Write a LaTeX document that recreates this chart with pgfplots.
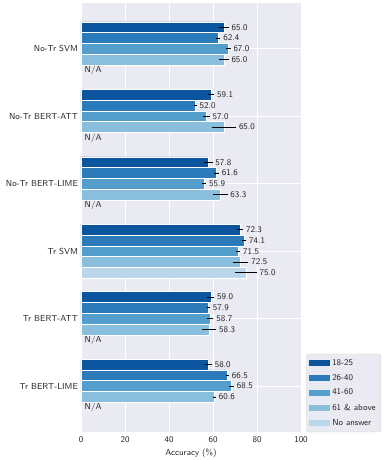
\documentclass[border=0pt]{standalone}
\usepackage{pgfplots}
\pgfplotsset{compat=1.18}
\usepackage{pgfplotstable}
\renewcommand{\familydefault}{\sfdefault}
\definecolor{bgc}{HTML}{EAEAF2}
\definecolor{txt}{HTML}{262626}
\definecolor{cA}{HTML}{0B559F}
\definecolor{cB}{HTML}{2B7BBA}
\definecolor{cC}{HTML}{539ECD}
\definecolor{cD}{HTML}{89BEDC}
\definecolor{cE}{HTML}{BAD6EB}

% y = group index + slot offset (groups 0..5 top to bottom)
\pgfplotstableread{
y x e
-0.32 65.0 2.2
0.68 59.1 1.5
1.68 57.8 2.0
2.68 72.3 1.4
3.68 59.0 1.6
4.68 58.0 1.5
}\tA
\pgfplotstableread{
y x e
-0.16 62.4 1.0
0.84 52.0 0.6
1.84 61.6 1.1
2.84 74.1 1.05
3.84 57.9 0.75
4.84 66.5 0.75
}\tB
\pgfplotstableread{
y x e
0.0 67.0 1.0
1.0 57.0 1.5
2.0 55.9 1.05
3.0 71.5 0.9
4.0 58.7 1.5
5.0 68.5 1.05
}\tC
\pgfplotstableread{
y x e
0.16 65.0 2.1
1.16 65.0 5.5
2.16 63.3 3.3
3.16 72.5 3.6
4.16 58.3 3.2
5.16 60.6 0.75
}\tD
\pgfplotstableread{
y x e
3.32 75.0 4.9
}\tE

\pgfplotsset{
  mybar/.style={xbar, bar width=0.16, bar shift=0pt, fill=#1, draw=white, line width=0.5pt,
    legend image code/.code={\fill[fill=#1,draw=none,sharp corners] (0pt,-3pt) rectangle (21pt,3pt);},
    error bars/x dir=both, error bars/x explicit, error bars/error mark=none,
    error bars/error bar style={line width=0.8pt, black, line cap=butt}},
  vlab/.style={draw=none, mark=none, forget plot, nodes near coords,
    point meta=\thisrow{x},
    every node near coord/.append style={anchor=west, inner sep=0.5pt, xshift=2.2pt, text=txt,
      /pgf/number format/.cd, fixed, fixed zerofill, precision=1}},
}

\begin{document}
\fontsize{8.7pt}{10pt}\selectfont
\begin{tikzpicture}
\begin{axis}[
  name=ax,
  width=220pt, height=429pt, scale only axis,
  xmin=0, xmax=100, ymin=-0.68, ymax=5.68, y dir=reverse,
  xtick={0,20,40,60,80,100},
  ytick={0,1,2,3,4,5},
  yticklabels={No-Tr SVM, No-Tr BERT-ATT, No-Tr BERT-LIME, Tr SVM, Tr BERT-ATT, Tr BERT-LIME},
  major tick length=0pt,
  axis line style={draw=none},
  axis background/.style={fill=bgc},
  grid=major, grid style={white, line width=0.8pt},
  tick label style={text=txt, font=\fontsize{8.7pt}{10pt}\selectfont},
  xticklabel style={yshift=-2pt},
  /pgf/number format/assume math mode=true,
  xlabel={Accuracy (\%)},
  xlabel style={text=txt, font=\fontsize{8.7pt}{10pt}\selectfont, yshift=0.5pt},
  legend style={at={(1.023,0)}, anchor=south west, fill=bgc, draw=black!15,
    rounded corners=2pt, font=\fontsize{8.7pt}{10pt}\selectfont, text=txt,
    row sep=3.6pt, inner xsep=3pt, inner ysep=3.5pt},
  legend cell align=left,
]
\addplot[mybar=cA] table[x=x, y=y, x error=e] {\tA};
\addlegendentry{18-25}
\addplot[mybar=cB] table[x=x, y=y, x error=e] {\tB};
\addlegendentry{26-40}
\addplot[mybar=cC] table[x=x, y=y, x error=e] {\tC};
\addlegendentry{41-60}
\addplot[mybar=cD] table[x=x, y=y, x error=e] {\tD};
\addlegendentry{61 \& above}
\addplot[mybar=cE] table[x=x, y=y, x error=e] {\tE};
\addlegendentry{No answer}

\addplot[vlab] table[x expr=\thisrow{x}+\thisrow{e}, y=y] {\tA};
\addplot[vlab] table[x expr=\thisrow{x}+\thisrow{e}, y=y] {\tB};
\addplot[vlab] table[x expr=\thisrow{x}+\thisrow{e}, y=y] {\tC};
\addplot[vlab] table[x expr=\thisrow{x}+\thisrow{e}, y=y] {\tD};
\addplot[vlab] table[x expr=\thisrow{x}+\thisrow{e}, y=y] {\tE};

\node[anchor=west, inner sep=0pt, text=txt] at (axis cs:1.6,0.32) {N/A};
\node[anchor=west, inner sep=0pt, text=txt] at (axis cs:1.6,1.32) {N/A};
\node[anchor=west, inner sep=0pt, text=txt] at (axis cs:1.6,2.32) {N/A};
\node[anchor=west, inner sep=0pt, text=txt] at (axis cs:1.6,4.32) {N/A};
\node[anchor=west, inner sep=0pt, text=txt] at (axis cs:1.6,5.32) {N/A};
\end{axis}
\pgfresetboundingbox
\path ([xshift=-81pt,yshift=-28pt]ax.south west) rectangle ([xshift=89pt,yshift=3pt]ax.north east);
\end{tikzpicture}
\end{document}
